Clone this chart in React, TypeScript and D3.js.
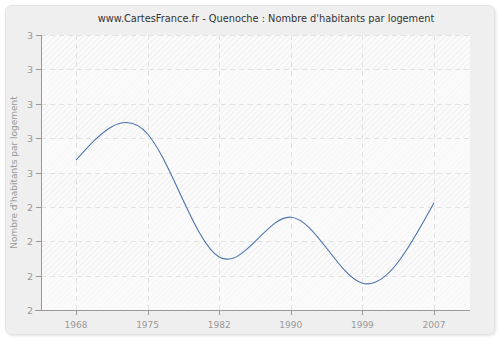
import React from "react";
import * as d3 from "d3";

const years = ["1968", "1975", "1982", "1990", "1999", "2007"];
const values = [2.518, 2.556, 2.377, 2.435, 2.339, 2.456];
const yTicks = [2.3, 2.35, 2.4, 2.45, 2.5, 2.55, 2.6, 2.65, 2.7];
const yTickLabels = ["2", "2", "2", "2", "3", "3", "3", "3", "3"];

const W = 500, H = 340;
const left = 41, right = 470, top = 35, bottom = 310;

export default function App() {
  const x = d3.scalePoint<string>().domain(years).range([76, 434]);
  const y = d3.scaleLinear().domain([2.3, 2.7]).range([bottom, top]);
  const line = d3
    .line<number>()
    .x((_, i) => x(years[i]) as number)
    .y((d) => y(d))
    .curve(d3.curveNatural);
  const font = "DejaVu Sans, Verdana, sans-serif";
  const bands = d3.range(0, 8);
  return (
    <svg width={W} height={H} style={{ position: "absolute", left: 0, top: 0 }}>
      <defs>
        <pattern id="hatch" width="4" height="4" patternUnits="userSpaceOnUse" patternTransform="rotate(45)">
          <rect width="4" height="4" fill="#fbfbfb" />
          <line x1="0" y1="0" x2="0" y2="4" stroke="#e4e4e4" strokeWidth="1" />
        </pattern>
        <filter id="sh" x="-5%" y="-5%" width="110%" height="110%">
          <feDropShadow dx="1" dy="1" stdDeviation="1" floodColor="#000" floodOpacity="0.12" />
        </filter>
      </defs>
      <rect x={0} y={0} width={W} height={H} fill="#ffffff" />
      <rect x={5.5} y={5.5} width={489} height={329} rx={6} ry={6} fill="#efefef" stroke="#e4e4e4" filter="url(#sh)" />
      <text x={266} y={22} textAnchor="middle" fontFamily={font} fontSize={9.8} fill="#333">
        www.CartesFrance.fr - Quenoche : Nombre d'habitants par logement
      </text>
      <rect x={left} y={top} width={right - left} height={bottom - top} fill="url(#hatch)" />
      {bands.filter((b) => b % 2 === 0).map((b) => (
        <rect
          key={b}
          x={left}
          y={y(yTicks[b + 1])}
          width={right - left}
          height={y(yTicks[b]) - y(yTicks[b + 1])}
          fill="#fbfbfb"
          opacity={0.6}
        />
      ))}
      {yTicks.slice(1).map((t, i) => (
        <line key={"gy" + i} x1={left} x2={right} y1={Math.round(y(t)) + 0.5} y2={Math.round(y(t)) + 0.5}
          stroke="#e2e2e2" strokeDasharray="5,4" />
      ))}
      {years.map((yr) => (
        <line key={"gx" + yr} x1={Math.round(x(yr) as number) + 0.5} x2={Math.round(x(yr) as number) + 0.5}
          y1={top} y2={bottom} stroke="#e2e2e2" strokeDasharray="5,4" />
      ))}
      <path d={line(values) || ""} fill="none" stroke="#4a74ad" strokeWidth={1.1} />
      <line x1={left + 0.5} x2={left + 0.5} y1={top} y2={bottom} stroke="#999" />
      <line x1={35} x2={right} y1={bottom + 0.5} y2={bottom + 0.5} stroke="#999" />
      {yTicks.map((t, i) => (
        <g key={"yt" + i}>
          <line x1={36} x2={left} y1={Math.round(y(t)) + 0.5} y2={Math.round(y(t)) + 0.5} stroke="#999" />
          <text x={33} y={y(t) + 4} textAnchor="end" fontFamily={font} fontSize={9.5} fill="#999">
            {yTickLabels[i]}
          </text>
        </g>
      ))}
      {years.map((yr) => (
        <g key={"xt" + yr}>
          <line x1={Math.round(x(yr) as number) + 0.5} x2={Math.round(x(yr) as number) + 0.5} y1={bottom} y2={bottom + 5} stroke="#999" />
          <text x={x(yr) as number} y={328} textAnchor="middle" fontFamily={font} fontSize={9} fill="#999">
            {yr}
          </text>
        </g>
      ))}
      <text transform={`translate(17,${(top + bottom) / 2}) rotate(-90)`} textAnchor="middle"
        fontFamily={font} fontSize={9} fill="#999">
        Nombre d'habitants par logement
      </text>
    </svg>
  );
}
